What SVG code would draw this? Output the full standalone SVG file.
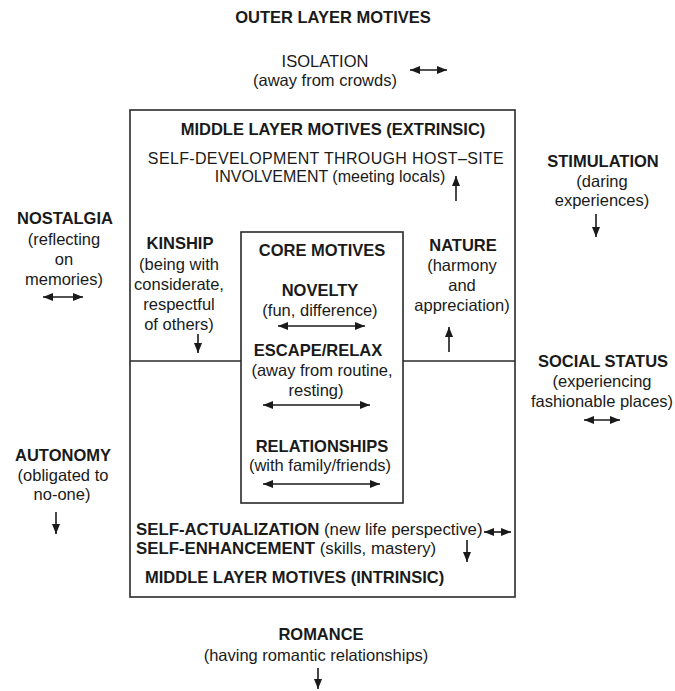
<svg xmlns="http://www.w3.org/2000/svg" width="675" height="691" viewBox="0 0 675 691">
<defs>
<marker id="ah" markerUnits="userSpaceOnUse" markerWidth="10" markerHeight="8" refX="10" refY="4" orient="auto-start-reverse">
<path d="M0,0 L10,4 L0,8 z" fill="#1a1a1a"/>
</marker>
<style>
text{font-family:"Liberation Sans",Arial,Helvetica,sans-serif;font-size:16.5px;fill:#1a1a1a}
.b{font-weight:bold}
.c{text-anchor:middle}
.sd{font-size:16px}
.sa{font-size:16.8px}
.box{fill:none;stroke:#2a2a2a;stroke-width:1.6}
.ar{stroke:#1a1a1a;stroke-width:1.6;fill:none;marker-end:url(#ah)}
.dar{stroke:#1a1a1a;stroke-width:1.6;fill:none;marker-start:url(#ah);marker-end:url(#ah)}
</style>
</defs>
<rect width="675" height="691" fill="#ffffff"/>

<g id="outer-layer-title"><text class="b c" x="333" y="23">OUTER LAYER MOTIVES</text></g>

<g id="middle-layer-box">
<rect class="box" x="130" y="110" width="385" height="487"/>
<line class="box" x1="130" y1="361" x2="241" y2="361"/>
<line class="box" x1="403" y1="361" x2="515" y2="361"/>
</g>

<g id="core-box"><rect class="box" x="241" y="232" width="162" height="271"/></g>

<g id="isolation">
<text class="c" x="325" y="67">ISOLATION</text>
<text class="c" x="325" y="86">(away from crowds)</text>
</g>

<g id="middle-extrinsic-title"><text class="b c" x="333" y="135">MIDDLE LAYER MOTIVES (EXTRINSIC)</text></g>

<g id="self-development">
<text class="c sd" x="326" y="164" letter-spacing="0.35">SELF-DEVELOPMENT THROUGH HOST–SITE</text>
<text class="c sd" x="330" y="182">INVOLVEMENT (meeting locals)</text>
</g>

<g id="stimulation">
<text class="b c" x="603" y="167">STIMULATION</text>
<text class="c" x="602" y="187">(daring</text>
<text class="c" x="602" y="206">experiences)</text>
</g>

<g id="nostalgia">
<text class="b c" x="65" y="224">NOSTALGIA</text>
<text class="c" x="64" y="245">(reflecting</text>
<text class="c" x="64" y="265">on</text>
<text class="c" x="64" y="285">memories)</text>
</g>

<g id="kinship">
<text class="b c" x="180" y="249">KINSHIP</text>
<text class="c" x="179" y="270">(being with</text>
<text class="c" x="179" y="290">considerate,</text>
<text class="c" x="179" y="310">respectful</text>
<text class="c" x="179" y="330">of others)</text>
</g>

<g id="core-title"><text class="b c" x="322" y="256">CORE MOTIVES</text></g>

<g id="novelty">
<text class="b c" x="320" y="296">NOVELTY</text>
<text class="c" x="320" y="316">(fun, difference)</text>
</g>

<g id="escape-relax">
<text class="b c" x="318" y="356">ESCAPE/RELAX</text>
<text class="c" x="322" y="376">(away from routine,</text>
<text class="c" x="316" y="396">resting)</text>
</g>

<g id="relationships">
<text class="b c" x="322" y="452">RELATIONSHIPS</text>
<text class="c" x="320" y="471">(with family/friends)</text>
</g>

<g id="nature">
<text class="b c" x="463" y="251">NATURE</text>
<text class="c" x="462" y="271">(harmony</text>
<text class="c" x="462" y="291">and</text>
<text class="c" x="462" y="311">appreciation)</text>
</g>

<g id="social-status">
<text class="b c" x="603" y="367">SOCIAL STATUS</text>
<text class="c" x="602" y="387">(experiencing</text>
<text class="c" x="602" y="407">fashionable places)</text>
</g>

<g id="autonomy">
<text class="b c" x="63" y="461">AUTONOMY</text>
<text class="c" x="63" y="481">(obligated to</text>
<text class="c" x="62" y="500">no-one)</text>
</g>

<g id="self-actualization">
<text class="sa" x="136" y="535"><tspan class="b">SELF-ACTUALIZATION</tspan> (new life perspective)</text>
</g>

<g id="self-enhancement">
<text class="sa" x="136" y="554"><tspan class="b">SELF-ENHANCEMENT</tspan> (skills, mastery)</text>
</g>

<g id="middle-intrinsic-title"><text class="b" x="145" y="583">MIDDLE LAYER MOTIVES (INTRINSIC)</text></g>

<g id="romance">
<text class="b c" x="321" y="640">ROMANCE</text>
<text class="c" x="316" y="661">(having romantic relationships)</text>
</g>

<g id="connectors">
<line class="dar" x1="410" y1="70" x2="447" y2="70"/>
<line class="ar" x1="456" y1="201" x2="456" y2="176"/>
<line class="ar" x1="596" y1="214" x2="596" y2="237"/>
<line class="dar" x1="43" y1="297" x2="83" y2="297"/>
<line class="ar" x1="198" y1="334" x2="198" y2="353"/>
<line class="dar" x1="278" y1="326" x2="365" y2="326"/>
<line class="ar" x1="449" y1="352" x2="449" y2="327"/>
<line class="dar" x1="263" y1="405" x2="370" y2="405"/>
<line class="dar" x1="584" y1="420" x2="620" y2="420"/>
<line class="dar" x1="263" y1="484" x2="380" y2="484"/>
<line class="ar" x1="56" y1="512" x2="56" y2="534"/>
<line class="dar" x1="484" y1="532" x2="511" y2="532"/>
<line class="ar" x1="467" y1="540" x2="467" y2="562"/>
<line class="ar" x1="318" y1="668" x2="318" y2="689"/>
</g>
</svg>
